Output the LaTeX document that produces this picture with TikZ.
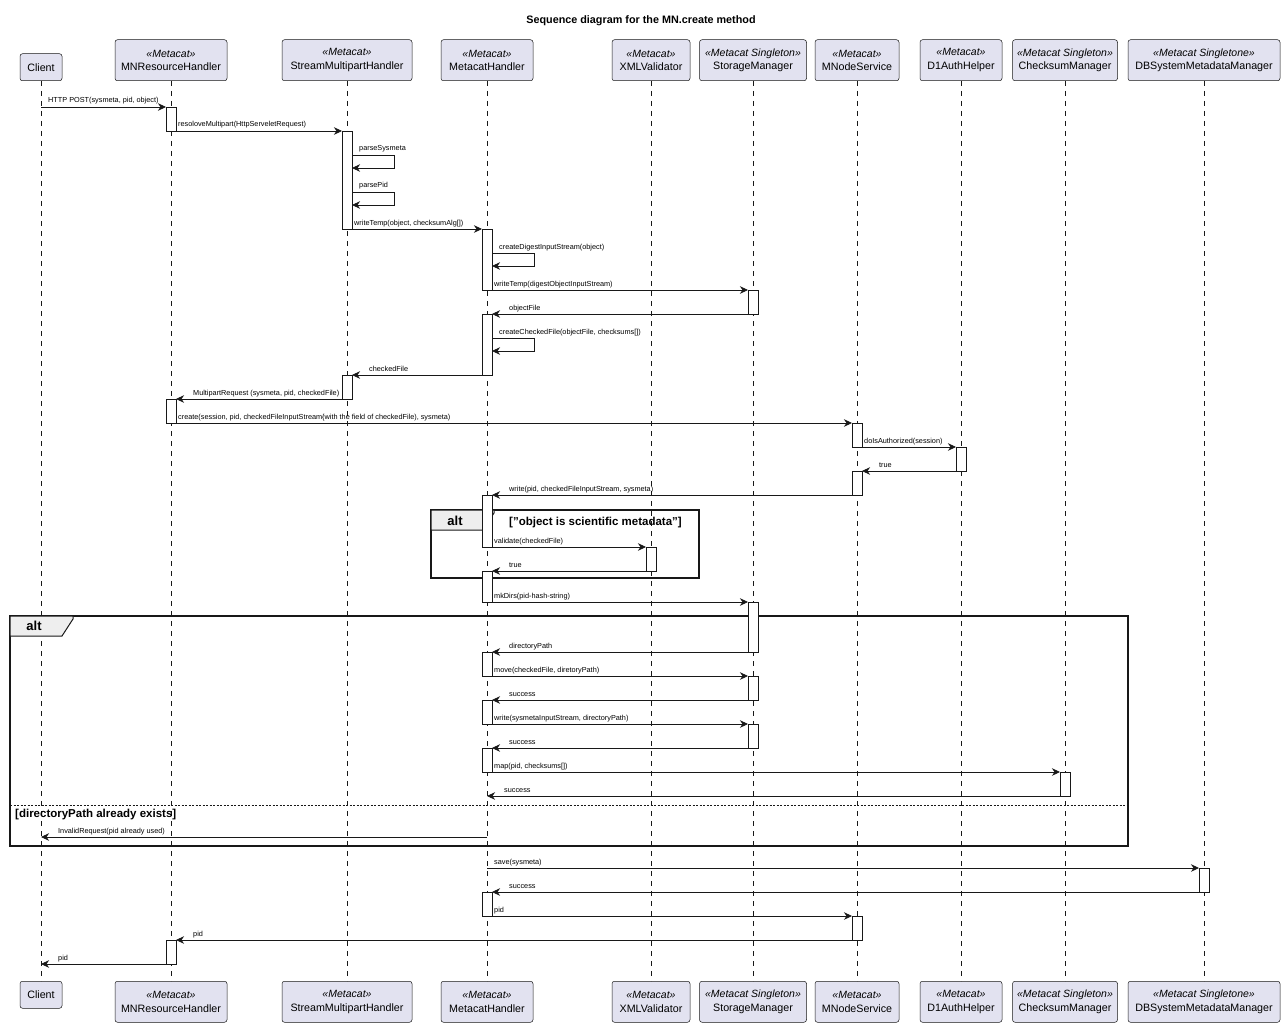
\documentclass[tikz,border=0pt]{standalone}
\usepackage{fontspec}
\setmainfont{Liberation Sans}
\usetikzlibrary{arrows.meta,calc}
\definecolor{partfill}{HTML}{E2E2F0}
\definecolor{tabfill}{HTML}{EEEEEE}
\definecolor{ink}{HTML}{181818}

\newcommand\stereo[1]{{\fontsize{10.5}{12}\selectfont\itshape «#1»}}
% activation bar on a lifeline
\newcommand\activ[3]{\draw[actbox] ($(#1|-0,#2)+(-5,0)$) rectangle ($(#1|-0,#3)+(5,0)$);}
% message to the right / to the left
\newcommand\rmsg[6]{\draw[msg] ($(#1|-0,#5)+(#2,0)$) -- ($(#3|-0,#5)+(#4,0)$);
  \node[lbl] at ($(#1|-0,#5)+(7,-4)$) {#6};}
\newcommand\lmsg[6]{\draw[msg] ($(#1|-0,#5)+(#2,0)$) -- ($(#3|-0,#5)+(#4,0)$);
  \node[lbl] at ($(#3|-0,#5)+(#4+17,-4)$) {#6};}
% message to itself
\newcommand\selfmsg[3]{\draw[msg] ($(#1|-0,#2)+(5,0)$) -- ++(42,0) -- ++(0,13) -- ++(-42,0);
  \node[lbl] at ($(#1|-0,#2)+(12,-4)$) {#3};}

\begin{document}
\begin{tikzpicture}[x=1pt,y=-1pt,
  part/.style={draw=ink,fill=partfill,rounded corners=2.5pt,line width=0.5pt,
    align=center,inner sep=0pt,minimum height=41pt,
    font=\fontsize{10.7}{13.5}\selectfont},
  life/.style={draw=ink,line width=0.5pt,dash pattern=on 5pt off 5pt},
  actbox/.style={draw=ink,fill=white,line width=0.8pt},
  msg/.style={draw=ink,line width=0.8pt,-{Stealth[length=8pt,width=7.5pt,inset=2.5pt]}},
  lbl/.style={anchor=base west,inner sep=0pt,font=\fontsize{7.3}{8}\selectfont},
  frame/.style={draw=ink,line width=1.6pt},
  tab/.style={draw=ink,fill=tabfill,line width=1pt},
  guard/.style={anchor=base west,inner sep=0pt,font=\fontsize{11.5}{13}\selectfont\bfseries}]
\useasboundingbox (0,0) rectangle (1284,1027);

\node[font=\fontsize{10.8}{12}\selectfont\bfseries] (title) at (641,21) {Sequence diagram for the MN.create method};

% participants, top
\node[part,minimum width=42,minimum height=27,anchor=south] (client) at (41,81) {Client};
\node[part,minimum width=112,anchor=south] (mnrh) at (171,81) {\stereo{Metacat}\\MNResourceHandler};
\node[part,minimum width=130,anchor=south] (smh) at (347,81) {\stereo{Metacat}\\StreamMultipartHandler};
\node[part,minimum width=92,anchor=south] (mch) at (487,81) {\stereo{Metacat}\\MetacatHandler};
\node[part,minimum width=78,anchor=south] (xmlv) at (651,81) {\stereo{Metacat}\\XMLValidator};
\node[part,minimum width=107,anchor=south] (stor) at (753,81) {\stereo{Metacat Singleton}\\StorageManager};
\node[part,minimum width=84,anchor=south] (mns) at (857,81) {\stereo{Metacat}\\MNodeService};
\node[part,minimum width=82,anchor=south] (auth) at (961,81) {\stereo{Metacat}\\D1AuthHelper};
\node[part,minimum width=105,anchor=south] (chk) at (1065,81) {\stereo{Metacat Singleton}\\ChecksumManager};
\node[part,minimum width=152,anchor=south] (dbsm) at (1204,81) {\stereo{Metacat Singletone}\\DBSystemMetadataManager};

% participants, bottom
\node[part,minimum width=42,minimum height=27,anchor=north] (client2) at (41,981) {Client};
\node[part,minimum width=112,anchor=north] (mnrh2) at (171,981) {\stereo{Metacat}\\MNResourceHandler};
\node[part,minimum width=130,anchor=north] (smh2) at (347,981) {\stereo{Metacat}\\StreamMultipartHandler};
\node[part,minimum width=92,anchor=north] (mch2) at (487,981) {\stereo{Metacat}\\MetacatHandler};
\node[part,minimum width=78,anchor=north] (xmlv2) at (651,981) {\stereo{Metacat}\\XMLValidator};
\node[part,minimum width=107,anchor=north] (stor2) at (753,981) {\stereo{Metacat Singleton}\\StorageManager};
\node[part,minimum width=84,anchor=north] (mns2) at (857,981) {\stereo{Metacat}\\MNodeService};
\node[part,minimum width=82,anchor=north] (auth2) at (961,981) {\stereo{Metacat}\\D1AuthHelper};
\node[part,minimum width=105,anchor=north] (chk2) at (1065,981) {\stereo{Metacat Singleton}\\ChecksumManager};
\node[part,minimum width=152,anchor=north] (dbsm2) at (1204,981) {\stereo{Metacat Singletone}\\DBSystemMetadataManager};

% lifelines
\foreach \p in {client,mnrh,smh,mch,xmlv,stor,mns,auth,chk,dbsm}
  \draw[life] (\p.south) -- (\p2.north);

% alt frames
\draw[frame] (431,510) rectangle (699,578);
\draw[tab] (431,510) -- (494,510) -- (494,513) -- (483,530) -- (431,530) -- cycle;
\node[font=\fontsize{13}{15}\selectfont\bfseries] (alt1) at (455,520.5) {alt};
\node[guard] (cond1) at (509,525) {["object is scientific metadata"]};

\draw[frame] (10,616) rectangle (1128,846);
\draw[tab] (10,616) -- (73,616) -- (73,619) -- (62,636) -- (10,636) -- cycle;
\node[font=\fontsize{13}{15}\selectfont\bfseries] (alt2) at (34,626) {alt};
\draw[draw=ink,line width=0.6pt,dash pattern=on 2pt off 1.5pt] (10,805) -- (1128,805);
\node[guard] (cond2) at (15,817) {[directoryPath already exists]};

% activations
\activ{mnrh}{107}{131} \activ{mnrh}{399}{423} \activ{mnrh}{940}{964}
\activ{smh}{131}{229} \activ{smh}{375}{399}
\activ{mch}{229}{290} \activ{mch}{314}{375} \activ{mch}{495}{547}
\activ{mch}{571}{602} \activ{mch}{652}{676} \activ{mch}{700}{724}
\activ{mch}{748}{772} \activ{mch}{892}{916}
\activ{stor}{290}{314} \activ{stor}{602}{652} \activ{stor}{676}{700} \activ{stor}{724}{748}
\activ{mns}{423}{447} \activ{mns}{471}{495} \activ{mns}{916}{940}
\activ{auth}{447}{471}
\activ{xmlv}{547}{571}
\activ{chk}{772}{796}
\activ{dbsm}{868}{892}

% messages
\rmsg{client}{0}{mnrh}{-5}{107}{HTTP POST(sysmeta, pid, object)}
\rmsg{mnrh}{5}{smh}{-5}{131}{resoloveMultipart(HttpServeletRequest)}
\selfmsg{smh}{155}{parseSysmeta}
\selfmsg{smh}{192}{parsePid}
\rmsg{smh}{5}{mch}{-5}{229}{writeTemp(object, checksumAlg[])}
\selfmsg{mch}{253}{createDigestInputStream(object)}
\rmsg{mch}{5}{stor}{-5}{290}{writeTemp(digestObjectInputStream)}
\lmsg{stor}{-5}{mch}{5}{314}{objectFile}
\selfmsg{mch}{338}{createCheckedFile(objectFile, checksums[])}
\lmsg{mch}{-5}{smh}{5}{375}{checkedFile}
\lmsg{smh}{-5}{mnrh}{5}{399}{MultipartRequest (sysmeta, pid, checkedFile)}
\rmsg{mnrh}{5}{mns}{-5}{423}{create(session, pid, checkedFileInputStream\{with the field of checkedFile), sysmeta)}
\rmsg{mns}{5}{auth}{-5}{447}{doIsAuthorized(session)}
\lmsg{auth}{-5}{mns}{5}{471}{true}
\lmsg{mns}{-5}{mch}{5}{495}{write(pid, checkedFileInputStream, sysmeta)}
\rmsg{mch}{5}{xmlv}{-5}{547}{validate(checkedFile)}
\lmsg{xmlv}{-5}{mch}{5}{571}{true}
\rmsg{mch}{5}{stor}{-5}{602}{mkDirs(pid-hash-string)}
\lmsg{stor}{-5}{mch}{5}{652}{directoryPath}
\rmsg{mch}{5}{stor}{-5}{676}{move(checkedFile, diretoryPath)}
\lmsg{stor}{-5}{mch}{5}{700}{success}
\rmsg{mch}{5}{stor}{-5}{724}{write(sysmetaInputStream, directoryPath)}
\lmsg{stor}{-5}{mch}{5}{748}{success}
\rmsg{mch}{5}{chk}{-5}{772}{map(pid, checksums[])}
\lmsg{chk}{-5}{mch}{0}{796}{success}
\lmsg{mch}{0}{client}{0}{837}{InvalidRequest(pid already used)}
\rmsg{mch}{0}{dbsm}{-5}{868}{save(sysmeta)}
\lmsg{dbsm}{-5}{mch}{5}{892}{success}
\rmsg{mch}{5}{mns}{-5}{916}{pid}
\lmsg{mns}{-5}{mnrh}{5}{940}{pid}
\lmsg{mnrh}{-5}{client}{0}{964}{pid}
\end{tikzpicture}
\end{document}
